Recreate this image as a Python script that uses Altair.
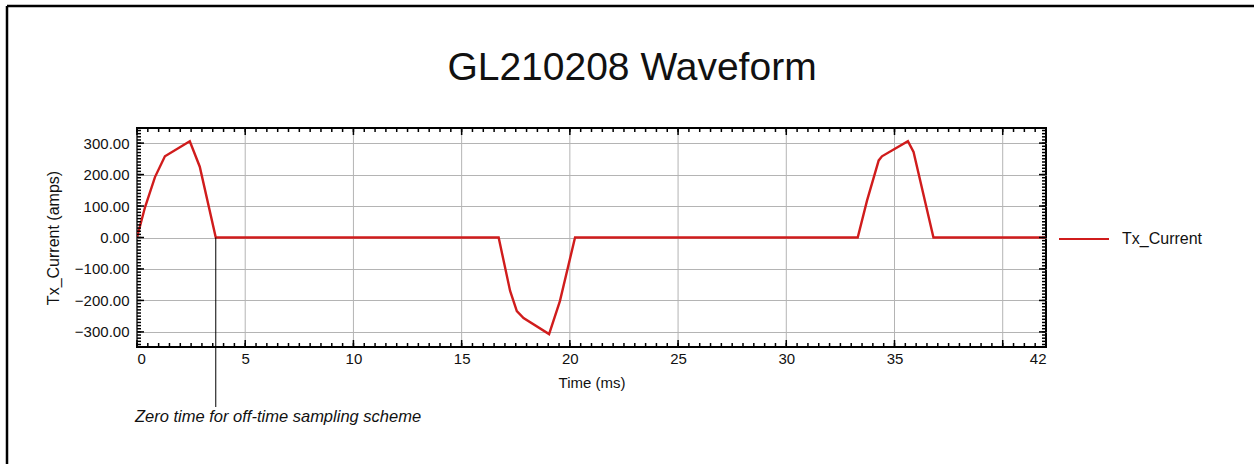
import altair as alt
import pandas as pd

# ---- data ----
time_ms = [0, 0.37, 0.83, 1.29, 2.44, 2.9, 3.64, 16.71, 16.94, 17.24, 17.55, 17.86,
           19.04, 19.54, 20.24, 33.3, 33.73, 34.27, 34.42, 35.62, 35.88, 36.8, 42]
tx_current = [0, 96, 192, 258, 306, 225, 0, 0, -74, -170, -234, -256,
              -307, -202, 0, 0, 117, 245, 258, 306, 272, 0, 0]
series_name = "Tx_Current"
x_grid_values = [0, 5, 10, 15, 20, 25, 30, 35, 40]
x_label_values = [0, 5, 10, 15, 20, 25, 30, 35, 40, 42]
y_tick_values = [-300, -200, -100, 0, 100, 200, 300]
x_minor = [i * 0.5 for i in range(0, 85)]
y_minor = [i * 10 for i in range(-34, 35)]
zero_time = 3.64
title_text = "GL210208 Waveform"
annotation_text = "Zero time for off-time sampling scheme"

W, H = 909, 219
FONT = "Liberation Sans"

df = pd.DataFrame({"t": time_ms, "I": tx_current, "series": series_name})
xscale = alt.Scale(domain=[0, 42], nice=False, zero=False)
yscale = alt.Scale(domain=[-348, 348], nice=False, zero=False)

x_axis = alt.Axis(values=x_label_values, labelFlush=True,
                  labelExpr="datum.value == 40 ? '' : datum.label",
                  ticks=False, domain=False, grid=False,
                  labelPadding=4, titlePadding=9)
y_axis = alt.Axis(values=y_tick_values, format=".2f", ticks=False,
                  domain=False, grid=True, labelPadding=8, titlePadding=13,
                  titleFontSize=16)
X = lambda f: alt.X(f, scale=xscale, title="Time (ms)", axis=x_axis)
Y = lambda f: alt.Y(f, scale=yscale, title="Tx_Current (amps)", axis=y_axis)

line = alt.Chart(df).mark_line(strokeWidth=2.4, clip=True).encode(
    x=X("t:Q"),
    y=Y("I:Q"),
    color=alt.Color("series:N", scale=alt.Scale(range=["#d01c1c"]),
                    legend=alt.Legend(title=None, orient="none", legendX=921, legendY=85,
                                      symbolType="stroke", symbolSize=2500,
                                      symbolStrokeWidth=2, labelFontSize=16,
                                      labelFont=FONT, labelColor="#111",
                                      labelOffset=12)),
)

xgrid = alt.Chart(pd.DataFrame({"t": x_grid_values})).mark_rule(
    color="#b4b4b4", strokeWidth=1).encode(
    x=X("t:Q"), y=alt.value(0), y2=alt.value(H))

xminor_df = pd.DataFrame({"t": x_minor})
xmajor_df = pd.DataFrame({"t": x_grid_values})
yminor_df = pd.DataFrame({"I": y_minor})
ymajor_df = pd.DataFrame({"I": y_tick_values})

def xticks(d, length, bottom=True):
    if bottom:
        return alt.Chart(d).mark_rule(color="black", strokeWidth=1.5).encode(
            x=X("t:Q"), y=alt.value(H), y2=alt.value(H - length))
    return alt.Chart(d).mark_rule(color="black", strokeWidth=1.5).encode(
        x=X("t:Q"), y=alt.value(0), y2=alt.value(length))

def yticks(d, length, left=True):
    if left:
        return alt.Chart(d).mark_rule(color="black", strokeWidth=1.5).encode(
            y=Y("I:Q"), x=alt.value(0), x2=alt.value(length))
    return alt.Chart(d).mark_rule(color="black", strokeWidth=1.5).encode(
        y=Y("I:Q"), x=alt.value(W), x2=alt.value(W - length))

ticks = [xticks(xminor_df, 4), xticks(xmajor_df, 7), xticks(xminor_df, 4, False),
         xticks(xmajor_df, 7, False), yticks(yminor_df, 4), yticks(ymajor_df, 7),
         yticks(yminor_df, 4, False), yticks(ymajor_df, 7, False)]

ann_rule = alt.Chart(pd.DataFrame({"t": [zero_time], "I": [0]})).mark_rule(
    color="black", strokeWidth=1).encode(
    x=X("t:Q"), y=Y("I:Q"), y2=alt.value(279))

ann_text = alt.Chart(pd.DataFrame({"txt": [annotation_text]})).mark_text(
    align="left", baseline="middle", fontStyle="italic", fontSize=16.5, font=FONT,
    color="#111").encode(text="txt:N", x=alt.value(-2), y=alt.value(289))

title = alt.Chart(pd.DataFrame({"txt": [title_text]})).mark_text(
    align="center", baseline="middle", fontSize=39, font=FONT, color="#111").encode(
    text="txt:N", x=alt.value(495), y=alt.value(-60))

border_top = alt.Chart(pd.DataFrame({"a": [1]})).mark_rule(color="black", strokeWidth=2.5).encode(
    x=alt.value(-130), x2=alt.value(1117), y=alt.value(-122))
border_left = alt.Chart(pd.DataFrame({"a": [1]})).mark_rule(color="black", strokeWidth=2.5).encode(
    x=alt.value(-130), y=alt.value(-122), y2=alt.value(336))

chart = alt.layer(xgrid, line, *ticks, ann_rule, ann_text, title, border_top, border_left).properties(
    width=W, height=H,
    autosize=alt.AutoSizeParams(type="none"),
    padding={"left": 137, "top": 128, "right": 209, "bottom": 117},
    background="white",
).configure_view(stroke="black", strokeWidth=2).configure_axis(
    labelFont=FONT, titleFont=FONT, labelFontSize=15, titleFontSize=15,
    labelColor="#111", titleColor="#111", titleFontWeight="normal",
    gridColor="#b4b4b4", gridWidth=1,
)

chart.save("out.html", embed_options={"renderer": "svg", "actions": False})
